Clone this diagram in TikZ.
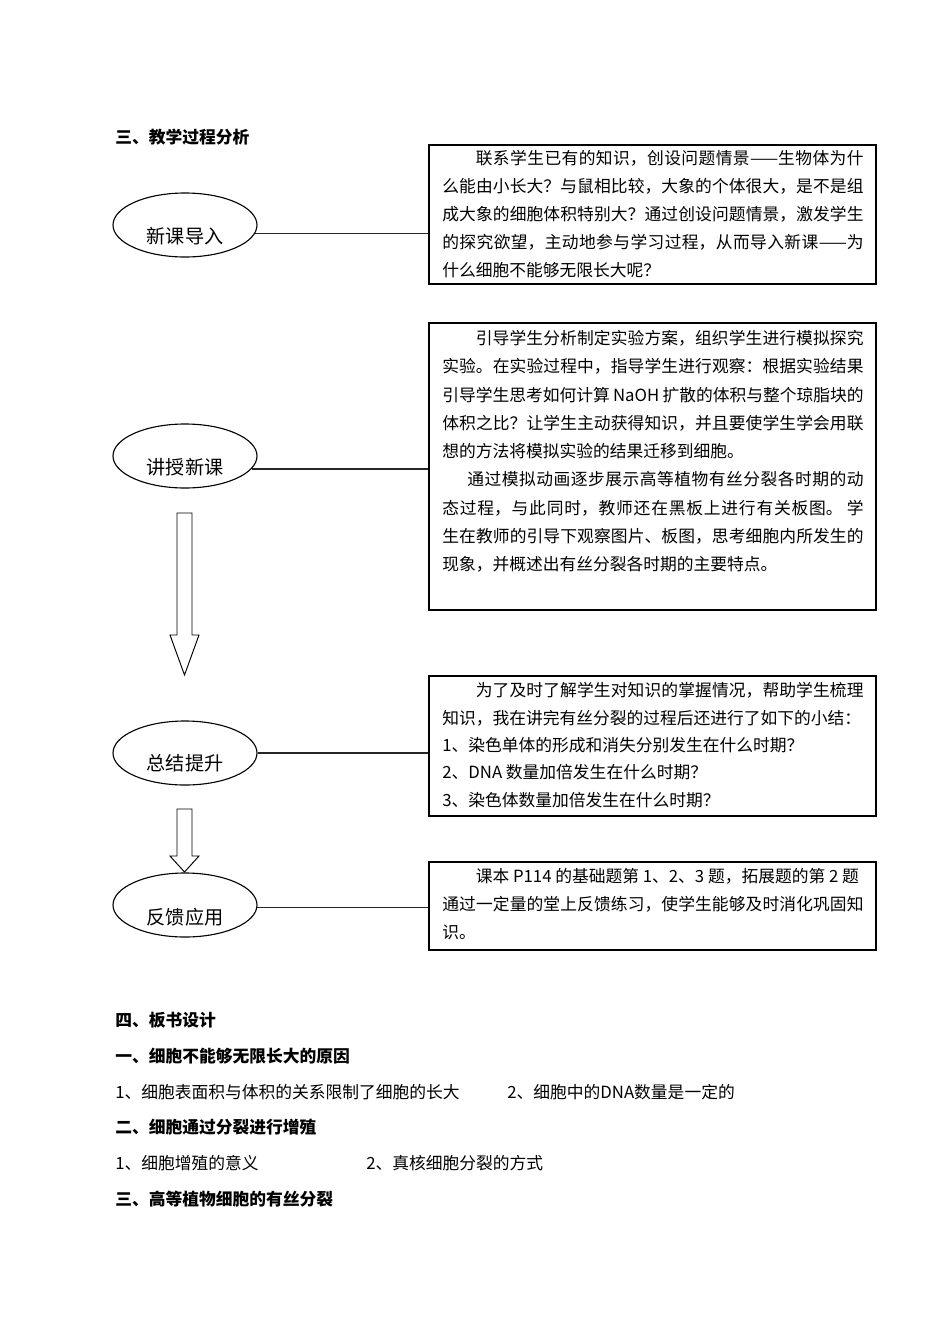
\documentclass[tikz,border=0pt]{standalone}
\usepackage{fontspec}
\setmainfont{Noto Sans CJK SC}
\XeTeXlinebreaklocale "zh"
\XeTeXlinebreakskip=0pt plus 2pt
\usetikzlibrary{shapes.geometric}
\newcommand\pu{0.62663pt}
\begin{document}
\begin{tikzpicture}[x=0.62663pt,y=-0.62663pt,
 ell/.style={ellipse,draw,line width=0.7pt,minimum width=144*\pu,minimum height=64*\pu,inner sep=0pt},
 ellab/.style={font=\fontsize{12pt}{14pt}\selectfont,inner sep=0pt},
 txtbox/.style={draw,line width=1pt,anchor=north west,inner sep=0pt,minimum width=447*\pu},
 body/.style={anchor=north west,inner sep=0pt,text width=264pt,align=justify,font=\fontsize{10.5pt}{17.5pt}\selectfont},
 head/.style={anchor=west,inner sep=0pt,font=\fontsize{10.5pt}{12pt}\selectfont\bfseries},
 plain/.style={anchor=west,inner sep=0pt,font=\fontsize{10.5pt}{12pt}\selectfont},
 conn/.style={line width=1.1pt,draw=black!85},
 blk/.style={draw,line width=0.6pt,line join=miter}]
\useasboundingbox (0,0) rectangle (950,1344);

% headings
\node[head] (h1) at (115,137) {三、教学过程分析};

% boxes
\node[txtbox,minimum height=139*\pu] (b1) at (428,144) {};
\node[txtbox,minimum height=287*\pu] (b2) at (428,322) {};
\node[txtbox,minimum height=140*\pu] (b3) at (428,675) {};
\node[txtbox,minimum height=88*\pu] (b4) at (428,861) {};

% box texts
\node[body] (t1) at (442,150) {\hspace*{2em}联系学生已有的知识，创设问题情景——生物体为什\break
么能由小长大？与鼠相比较，大象的个体很大，是不是组\break
成大象的细胞体积特别大？通过创设问题情景，激发学生\break
的探究欲望，主动地参与学习过程，从而导入新课——为\break
什么细胞不能够无限长大呢？};

\node[body,font=\fontsize{10.5pt}{17.7pt}\selectfont] (t2) at (442,330) {\hspace*{2em}引导学生分析制定实验方案，组织学生进行模拟探究\break
实验。在实验过程中，指导学生进行观察：根据实验结果\break
引导学生思考如何计算 NaOH 扩散的体积与整个琼脂块的\break
体积之比？让学生主动获得知识，并且要使学生学会用联\break
想的方法将模拟实验的结果迁移到细胞。\par
\hspace*{1.5em}通过模拟动画逐步展示高等植物有丝分裂各时期的动\break
态过程，与此同时，教师还在黑板上进行有关板图。\ 学\break
生在教师的引导下观察图片、板图，思考细胞内所发生的\break
现象，并概述出有丝分裂各时期的主要特点。};

\node[body,font=\fontsize{10.5pt}{17.2pt}\selectfont] (t3) at (442,682) {\hspace*{2em}为了及时了解学生对知识的掌握情况，帮助学生梳理\break
知识，我在讲完有丝分裂的过程后还进行了如下的小结：\par
1、染色单体的形成和消失分别发生在什么时期？\par
2、DNA 数量加倍发生在什么时期？\par
3、染色体数量加倍发生在什么时期？};

\node[body] (t4) at (442,868) {\hspace*{2em}课本 P114 的基础题第 1、2、3 题，拓展题的第 2 题\\
通过一定量的堂上反馈练习，使学生能够及时消化巩固知\break
识。};

% ellipses
\node[ell] (e1) at (185,225) {};
\node[ell] (e2) at (185,456) {};
\node[ell] (e3) at (185,753) {};
\node[ell] (e4) at (185,905) {};
\node[ellab] (l1) at (185,236) {新课导入};
\node[ellab] (l2) at (185,467) {讲授新课};
\node[ellab] (l3) at (185,763) {总结提升};
\node[ellab] (l4) at (185,917) {反馈应用};

% connectors
\draw[conn] (e1.-7) -- (e1.-7 -| b1.west);
\draw[conn] (e2.-11) -- (e2.-11 -| b2.west);
\draw[conn] (e3.east) -- (e3.east -| b3.west);
\draw[conn] (e4.-2) -- (e4.-2 -| b4.west);

% block arrows
\draw[blk] (177,513) -- (192,513) -- (192,635) -- (199,635) -- (184.5,675) -- (170,635) -- (177,635) -- cycle;
\draw[blk] (177,809) -- (192,809) -- (192,856) -- (199,856) -- (184.5,872) -- (170,856) -- (177,856) -- cycle;

% board design
\node[head] (h2) at (115,1020) {四、板书设计};
\node[head] (h3) at (115,1056) {一、细胞不能够无限长大的原因};
\node[plain] (p1) at (115,1092) {1、细胞表面积与体积的关系限制了细胞的长大};
\node[plain] (p2) at (507,1092) {2、细胞中的DNA数量是一定的};
\node[head] (h4) at (115,1127) {二、细胞通过分裂进行增殖};
\node[plain] (p3) at (115,1163) {1、细胞增殖的意义};
\node[plain] (p4) at (366,1163) {2、真核细胞分裂的方式};
\node[head] (h5) at (115,1199) {三、高等植物细胞的有丝分裂};
\end{tikzpicture}
\end{document}
